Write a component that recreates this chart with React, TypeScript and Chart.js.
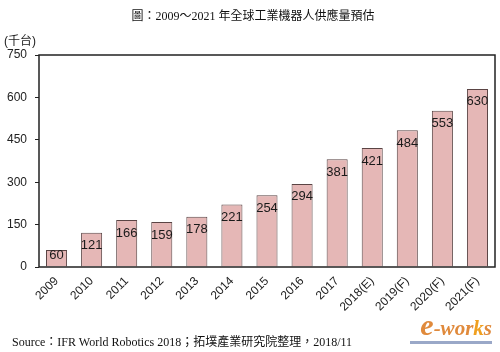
import React, { useEffect, useRef } from "react";
import { Chart, registerables } from "chart.js";

Chart.register(...registerables);

const categories = ["2009", "2010", "2011", "2012", "2013", "2014", "2015", "2016", "2017", "2018(E)", "2019(F)", "2020(F)", "2021(F)"];
const supply = [60, 121, 166, 159, 178, 221, 254, 294, 381, 421, 484, 553, 630];
const yTicks = [0, 150, 300, 450, 600, 750];
const titleText = "圖：2009～2021 年全球工業機器人供應量預估";
const unitText = "(千台)";
const sourceText = "Source：IFR World Robotics 2018；拓墣產業研究院整理，2018/11";

const frame = {
  id: "frame",
  afterDraw(chart: any) {
    const { ctx, chartArea: a } = chart;
    ctx.save();
    ctx.strokeStyle = "#222";
    ctx.lineWidth = 1.5;
    ctx.strokeRect(a.left, a.top, a.right - a.left, a.bottom - a.top);
    ctx.restore();
  },
};

const barLabels = {
  id: "barLabels",
  afterDatasetsDraw(chart: any) {
    const { ctx } = chart;
    const meta = chart.getDatasetMeta(0);
    ctx.save();
    ctx.font = "13px 'Liberation Sans', Arial, sans-serif";
    ctx.fillStyle = "#1a1a1a";
    ctx.textAlign = "center";
    ctx.textBaseline = "middle";
    meta.data.forEach((bar: any, i: number) => {
      let y = bar.y + 13;
      if (y > bar.base - 11) y = bar.base - 11;
      ctx.fillText(String(supply[i]), bar.x, y);
    });
    ctx.restore();
  },
};

export default function App() {
  const ref = useRef<HTMLCanvasElement>(null);
  useEffect(() => {
    if (!ref.current) return;
    const chart = new Chart(ref.current, {
      type: "bar",
      data: {
        labels: categories,
        datasets: [
          {
            data: supply,
            backgroundColor: "#e5b7b6",
            borderColor: "#5a4444",
            borderWidth: 1,
            barPercentage: 0.6,
            categoryPercentage: 1,
          },
        ],
      },
      options: {
        animation: false,
        responsive: false,
        maintainAspectRatio: false,
        layout: { padding: { left: 0, top: 55, right: 5, bottom: 0 } },
        plugins: { legend: { display: false }, tooltip: { enabled: false }, title: { display: false } },
        scales: {
          x: {
            grid: { display: false },
            border: { display: false },
            ticks: {
              maxRotation: 45,
              minRotation: 45,
              autoSkip: false,
              padding: -1,
              color: "#222",
              font: { family: "'Liberation Sans', Arial, sans-serif", size: 12 },
            },
            afterFit(scale: any) {
              scale.height = 352 - 267;
            },
          },
          y: {
            min: 0,
            max: 750,
            afterBuildTicks(scale: any) {
              scale.ticks = yTicks.map((v) => ({ value: v }));
            },
            grid: { drawOnChartArea: false, drawTicks: true, tickLength: 4, color: "#222", lineWidth: 1 },
            border: { display: false },
            ticks: {
              padding: 8,
              color: "#222",
              font: { family: "'Liberation Sans', Arial, sans-serif", size: 12 },
            },
            afterFit(scale: any) {
              scale.width = 39;
            },
          },
        },
      },
      plugins: [frame, barLabels],
    });
    return () => chart.destroy();
  }, []);

  return (
    <div style={{ position: "absolute", left: 0, top: 0, width: 500, height: 352, background: "#fff", overflow: "hidden" }}>
      <canvas ref={ref} width={500} height={352} style={{ position: "absolute", left: 0, top: 0, width: 500, height: 352 }} />
      <div
        style={{
          position: "absolute",
          left: 0,
          width: 506,
          top: 8,
          textAlign: "center",
          fontFamily: "'Liberation Serif', 'Noto Sans CJK TC', serif",
          fontSize: 12,
          color: "#111",
          lineHeight: "16px",
        }}
      >
        {titleText}
      </div>
      <div
        style={{
          position: "absolute",
          left: 4,
          top: 33,
          fontFamily: "'Liberation Sans', 'Noto Sans CJK TC', sans-serif",
          fontSize: 12,
          color: "#222",
          lineHeight: "16px",
        }}
      >
        {unitText}
      </div>
      <div
        style={{
          position: "absolute",
          left: 12,
          top: 334,
          fontFamily: "'Liberation Serif', 'Noto Sans CJK TC', serif",
          fontSize: 12,
          color: "#111",
          lineHeight: "16px",
          whiteSpace: "nowrap",
        }}
      >
        {sourceText}
      </div>
      <div
        style={{
          position: "absolute",
          left: 410,
          top: 312,
          width: 82,
          fontFamily: "'Liberation Serif', serif",
          fontStyle: "italic",
          fontWeight: "bold",
          fontSize: 21,
          color: "#e08a3c",
          lineHeight: "25px",
          borderBottom: "3px solid #9aa8c8",
          textAlign: "right",
        }}
      >
        <span style={{ fontSize: 30 }}>e</span>-wor<span style={{ color: "#f0a020" }}>k</span>s
      </div>
    </div>
  );
}
